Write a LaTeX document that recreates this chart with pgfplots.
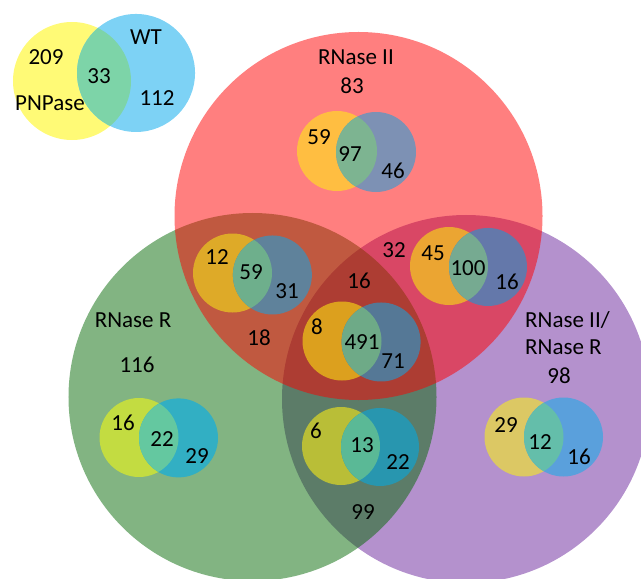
\documentclass[border=0pt]{standalone}
\usepackage{pgfplots}
\pgfplotsset{compat=1.18}
\usepackage{pgfplotstable}
\usepackage{fontspec}
\setmainfont{Carlito}

\definecolor{bigR}{RGB}{255,0,0}
\definecolor{bigG}{RGB}{5,105,5}
\definecolor{bigP}{RGB}{105,35,155}

% small Venn colours: left, right, overlap
\definecolor{aL}{RGB}{255,250,118}\definecolor{aR}{RGB}{125,210,245}\definecolor{aO}{RGB}{125,212,168}
\definecolor{bL}{RGB}{255,190,65}\definecolor{bR}{RGB}{125,145,180}\definecolor{bO}{RGB}{125,180,145}
\definecolor{cL}{RGB}{222,170,40}\definecolor{cR}{RGB}{95,130,155}\definecolor{cO}{RGB}{110,175,140}
\definecolor{dL}{RGB}{235,165,50}\definecolor{dR}{RGB}{100,120,170}\definecolor{dO}{RGB}{118,170,145}
\definecolor{eL}{RGB}{220,160,30}\definecolor{eR}{RGB}{85,120,150}\definecolor{eO}{RGB}{110,170,135}
\definecolor{fL}{RGB}{195,220,65}\definecolor{fR}{RGB}{50,175,195}\definecolor{fO}{RGB}{100,200,160}
\definecolor{gL}{RGB}{185,190,55}\definecolor{gR}{RGB}{40,150,175}\definecolor{gO}{RGB}{90,185,150}
\definecolor{hL}{RGB}{220,200,100}\definecolor{hR}{RGB}{90,160,220}\definecolor{hO}{RGB}{100,190,170}

\pgfdeclareplotmark{bigdisk}{\pgfpathcircle{\pgfpointorigin}{\pgfplotmarksize}\pgfusepathqfill}

% #1 name, #2 dx, #3 dy (in radii), #4 left, #5 right, #6 overlap
\newcommand\defvenn[6]{%
  \pgfdeclareplotmark{#1}{%
    \pgfpathcircle{\pgfpointorigin}{\pgfplotmarksize}%
    \pgfsetfillcolor{#4}\pgfusepathqfill
    \pgfpathcircle{\pgfpoint{#2\pgfplotmarksize}{#3\pgfplotmarksize}}{\pgfplotmarksize}%
    \pgfsetfillcolor{#5}\pgfusepathqfill
    \begin{pgfscope}%
      \pgfpathcircle{\pgfpointorigin}{\pgfplotmarksize}\pgfusepathqclip
      \pgfpathcircle{\pgfpoint{#2\pgfplotmarksize}{#3\pgfplotmarksize}}{\pgfplotmarksize}%
      \pgfsetfillcolor{#6}\pgfusepathqfill
    \end{pgfscope}}}
\defvenn{vA}{1.085}{0.136}{aL}{aR}{aO}
\defvenn{vB}{0.975}{-0.025}{bL}{bR}{bO}
\defvenn{vC}{1.01}{-0.05}{cL}{cR}{cO}
\defvenn{vD}{1.0}{-0.025}{dL}{dR}{dO}
\defvenn{vE}{0.99}{-0.025}{eL}{eR}{eO}
\defvenn{vF}{1.0}{-0.01}{fL}{fR}{fO}
\defvenn{vG}{1.0}{-0.025}{gL}{gR}{gO}
\defvenn{vH}{1.0}{0}{hL}{hR}{hO}

\pgfplotstableread{
x y label
46 57 209
99 76 33
157 98 112
352 86 83
319 137 59
350 154 97
393 171 46
217 257 12
251 272 59
287 291 31
394 250 32
433 253 45
468 268 100
507 282 16
359 281 16
259 338 18
317 327 8
362 342 491
393 361 71
137 365 116
559 376 98
123 423 16
162 439 22
197 456 29
506 425 29
540 442 12
579 457 16
316 431 6
362 445 13
398 462 22
363 512 99
}\numbers

\begin{document}
\begin{tikzpicture}
\begin{axis}[
  x=1bp, y=1bp, xmin=0, xmax=641, ymin=0, ymax=579, y dir=reverse,
  hide axis, clip=true, clip marker paths=true,
]
% big circles
\addplot[only marks, mark=bigdisk, mark size=184bp, mark options={fill=bigP, fill opacity=0.5}] coordinates {(466,399)};
\addplot[only marks, mark=bigdisk, mark size=184bp, mark options={fill=bigG, fill opacity=0.5}] coordinates {(252.5,397)};
\addplot[only marks, mark=bigdisk, mark size=184bp, mark options={fill=bigR, fill opacity=0.5}] coordinates {(358.5,216)};
% small Venns (left-circle centres)
\addplot[only marks, mark=vA, mark size=59bp] coordinates {(72,81)};
\addplot[only marks, mark=vB, mark size=40bp] coordinates {(337,151)};
\addplot[only marks, mark=vC, mark size=39.5bp] coordinates {(232.5,273)};
\addplot[only marks, mark=vD, mark size=39bp] coordinates {(449,266)};
\addplot[only marks, mark=vE, mark size=39.5bp] coordinates {(342,341)};
\addplot[only marks, mark=vF, mark size=39.5bp] coordinates {(139,437.5)};
\addplot[only marks, mark=vG, mark size=39bp] coordinates {(341,446)};
\addplot[only marks, mark=vH, mark size=39.5bp] coordinates {(524,437)};
% numbers
\addplot[only marks, mark=none, nodes near coords, point meta=explicit symbolic,
  every node near coord/.append style={anchor=center, text=black, inner sep=0pt,
    font=\fontsize{23bp}{27bp}\selectfont}]
  table[x=x, y=y, meta=label] {\numbers};
% names
\begin{scope}[every node/.style={text=black, inner sep=0pt, font=\fontsize{23bp}{27bp}\selectfont}]
\node at (axis cs:146,37) {WT};
\node at (axis cs:50,103) {PNPase};
\node at (axis cs:356,57) {RNase II};
\node at (axis cs:133,320) {RNase R};
\node[anchor=west] at (axis cs:525,320) {RNase II/};
\node[anchor=west] at (axis cs:525,347) {RNase R};
\end{scope}
\coordinate (bbA) at (axis cs:0,0);
\coordinate (bbB) at (axis cs:641,579);
\end{axis}
\pgfresetboundingbox
\path[use as bounding box] (bbA) rectangle (bbB);
\end{tikzpicture}
\end{document}
